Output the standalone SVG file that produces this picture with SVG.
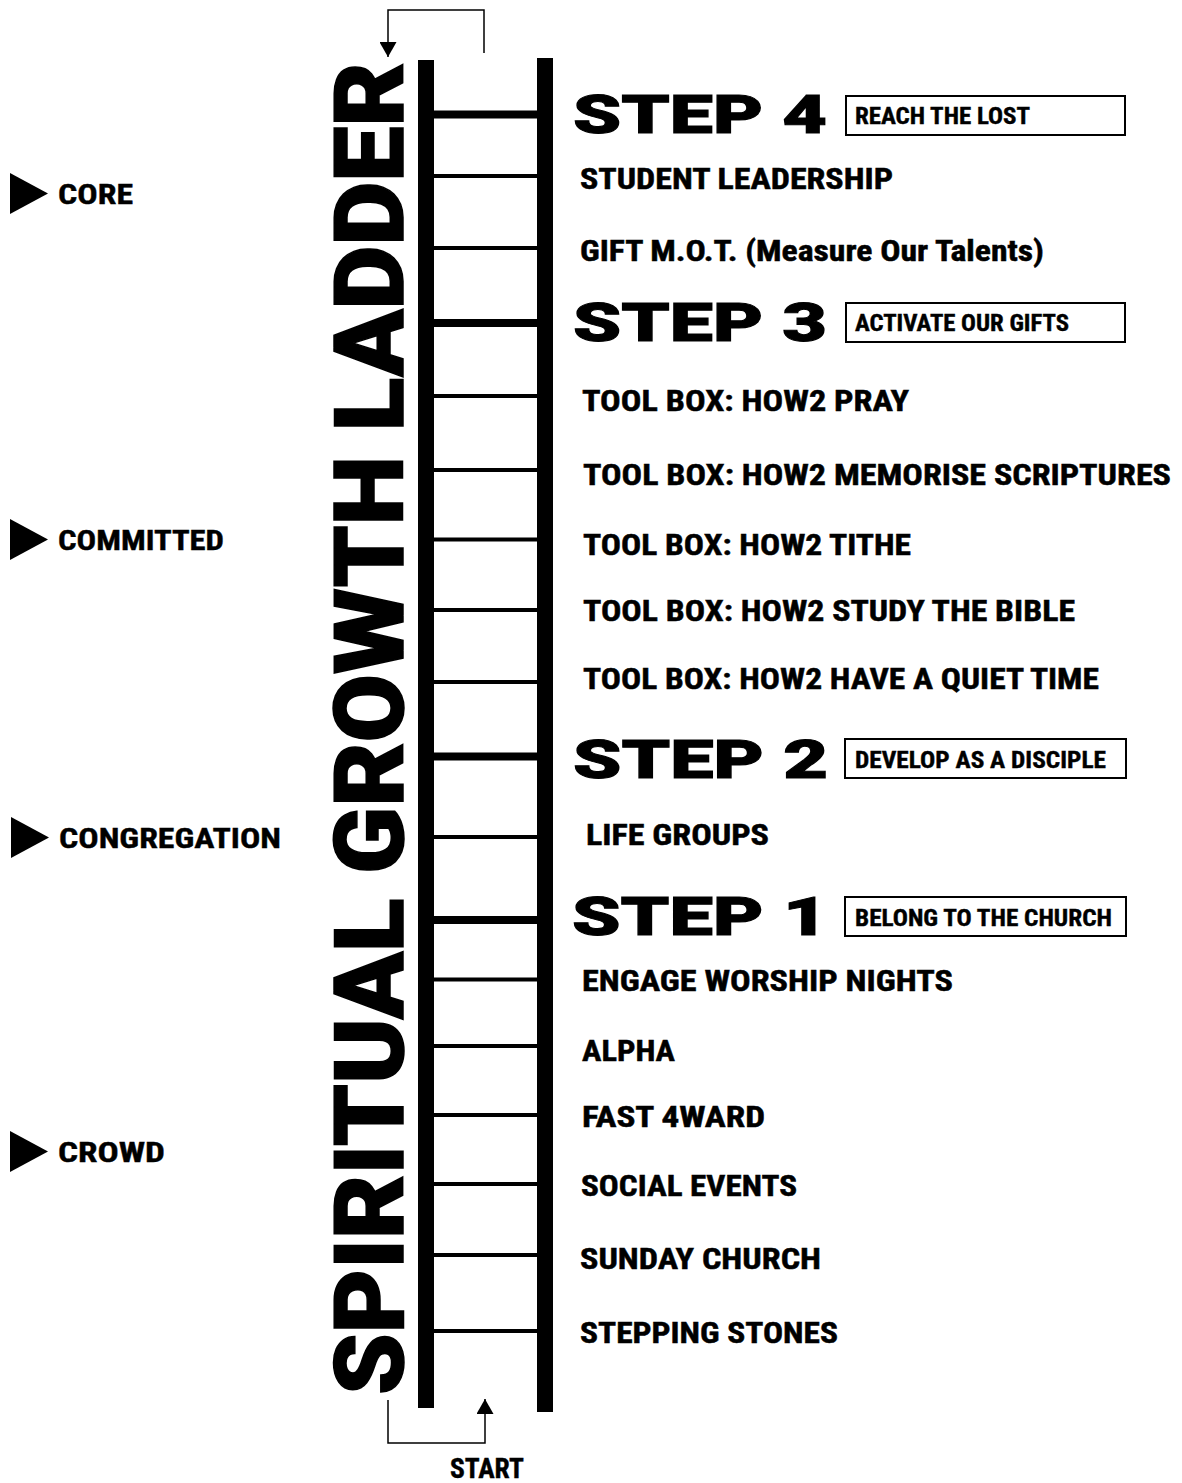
<svg xmlns="http://www.w3.org/2000/svg" width="1182" height="1483" viewBox="0 0 1182 1483">
<style>
.bg{fill:#fff}
.rail{fill:#000}
.rung{fill:#000}
.title{font-family:"Roboto","DejaVu Sans","Liberation Sans",sans-serif;font-weight:900;font-size:97px;fill:#000;stroke:#000;stroke-width:1.5}
.step{font-family:"Roboto","DejaVu Sans","Liberation Sans",sans-serif;font-weight:900;font-size:53px;fill:#000;stroke:#000;stroke-width:1}
.item{font-family:"Liberation Sans Narrow","Roboto Condensed","Liberation Sans",sans-serif;font-weight:bold;font-size:30px;fill:#000;stroke:#000;stroke-width:0.5}
.box{fill:#fff;stroke:#000;stroke-width:2}
.boxt{font-family:"Liberation Sans Narrow","Roboto Condensed","Liberation Sans",sans-serif;font-weight:bold;font-size:23px;fill:#000;stroke:#000;stroke-width:0.4}
.lab{font-family:"Liberation Sans Narrow","Roboto Condensed","Liberation Sans",sans-serif;font-weight:bold;font-size:28px;fill:#000;stroke:#000;stroke-width:0.4}
.tri{fill:#000}
.conn{fill:none;stroke:#000;stroke-width:1.5}
</style>
<defs>
<marker id="ah" markerUnits="userSpaceOnUse" markerWidth="17" markerHeight="17" refX="15" refY="8.5" orient="auto">
<path d="M0,0 L15,8.5 L0,17 z" fill="#000"/>
</marker>
</defs>
<rect class="bg" x="0" y="0" width="1182" height="1483"/>

<g id="ladder">
<rect class="rail" x="418" y="60" width="16" height="1348"/>
<rect class="rail" x="537" y="58" width="16" height="1354"/>
<rect class="rung" x="434" y="110.5" width="103" height="8"/>
<rect class="rung" x="434" y="174" width="103" height="4"/>
<rect class="rung" x="434" y="246" width="103" height="4"/>
<rect class="rung" x="434" y="319" width="103" height="8"/>
<rect class="rung" x="434" y="394" width="103" height="4"/>
<rect class="rung" x="434" y="468" width="103" height="4"/>
<rect class="rung" x="434" y="537.5" width="103" height="4"/>
<rect class="rung" x="434" y="608" width="103" height="4"/>
<rect class="rung" x="434" y="680" width="103" height="4"/>
<rect class="rung" x="434" y="752.5" width="103" height="8"/>
<rect class="rung" x="434" y="835" width="103" height="4"/>
<rect class="rung" x="434" y="916" width="103" height="8"/>
<rect class="rung" x="434" y="977.5" width="103" height="4"/>
<rect class="rung" x="434" y="1044" width="103" height="4"/>
<rect class="rung" x="434" y="1113" width="103" height="4"/>
<rect class="rung" x="434" y="1182" width="103" height="4"/>
<rect class="rung" x="434" y="1253" width="103" height="4"/>
<rect class="rung" x="434" y="1329" width="103" height="4"/>
</g>

<g id="title">
<text class="title" transform="translate(403,1395) rotate(-90)" textLength="1333" lengthAdjust="spacingAndGlyphs">SPIRITUAL GROWTH LADDER</text>
</g>

<g id="step4">
<text class="step" x="573" y="133" textLength="254" lengthAdjust="spacingAndGlyphs">STEP 4</text>
<rect class="box" x="846" y="96" width="279" height="39"/>
<text class="boxt" x="855" y="124" textLength="175" lengthAdjust="spacingAndGlyphs">REACH THE LOST</text>
</g>
<g id="item-student-leadership"><text class="item" x="580" y="189" textLength="313" lengthAdjust="spacingAndGlyphs">STUDENT LEADERSHIP</text></g>
<g id="item-gift-mot"><text class="item" x="580" y="261" textLength="464" lengthAdjust="spacingAndGlyphs">GIFT M.O.T. (Measure Our Talents)</text></g>

<g id="step3">
<text class="step" x="573" y="341" textLength="254" lengthAdjust="spacingAndGlyphs">STEP 3</text>
<rect class="box" x="846" y="303" width="279" height="39"/>
<text class="boxt" x="855" y="331" textLength="214" lengthAdjust="spacingAndGlyphs">ACTIVATE OUR GIFTS</text>
</g>
<g id="item-pray"><text class="item" x="582" y="411" textLength="327" lengthAdjust="spacingAndGlyphs">TOOL BOX: HOW2 PRAY</text></g>
<g id="item-memorise"><text class="item" x="583" y="485" textLength="588" lengthAdjust="spacingAndGlyphs">TOOL BOX: HOW2 MEMORISE SCRIPTURES</text></g>
<g id="item-tithe"><text class="item" x="583" y="555" textLength="328" lengthAdjust="spacingAndGlyphs">TOOL BOX: HOW2 TITHE</text></g>
<g id="item-study"><text class="item" x="583" y="621" textLength="492" lengthAdjust="spacingAndGlyphs">TOOL BOX: HOW2 STUDY THE BIBLE</text></g>
<g id="item-quiet"><text class="item" x="583" y="689" textLength="516" lengthAdjust="spacingAndGlyphs">TOOL BOX: HOW2 HAVE A QUIET TIME</text></g>

<g id="step2">
<text class="step" x="573" y="778" textLength="255" lengthAdjust="spacingAndGlyphs">STEP 2</text>
<rect class="box" x="845" y="739" width="281" height="39"/>
<text class="boxt" x="855" y="768" textLength="251" lengthAdjust="spacingAndGlyphs">DEVELOP AS A DISCIPLE</text>
</g>
<g id="item-life-groups"><text class="item" x="586" y="845" textLength="183" lengthAdjust="spacingAndGlyphs">LIFE GROUPS</text></g>

<g id="step1">
<text class="step" x="572" y="935" textLength="256" lengthAdjust="spacingAndGlyphs">STEP 1</text>
<rect class="box" x="845" y="897" width="281" height="39"/>
<text class="boxt" x="855" y="926" textLength="257" lengthAdjust="spacingAndGlyphs">BELONG TO THE CHURCH</text>
</g>
<g id="item-engage"><text class="item" x="582" y="991" textLength="371" lengthAdjust="spacingAndGlyphs">ENGAGE WORSHIP NIGHTS</text></g>
<g id="item-alpha"><text class="item" x="582" y="1061" textLength="93" lengthAdjust="spacingAndGlyphs">ALPHA</text></g>
<g id="item-fast4ward"><text class="item" x="582" y="1127" textLength="183" lengthAdjust="spacingAndGlyphs">FAST 4WARD</text></g>
<g id="item-social"><text class="item" x="581" y="1196" textLength="216" lengthAdjust="spacingAndGlyphs">SOCIAL EVENTS</text></g>
<g id="item-sunday"><text class="item" x="580" y="1269" textLength="241" lengthAdjust="spacingAndGlyphs">SUNDAY CHURCH</text></g>
<g id="item-stepping"><text class="item" x="580" y="1343" textLength="258" lengthAdjust="spacingAndGlyphs">STEPPING STONES</text></g>

<g id="label-core">
<polygon class="tri" points="10,173 48,193.5 10,214"/>
<text class="lab" x="58" y="204" textLength="75" lengthAdjust="spacingAndGlyphs">CORE</text>
</g>
<g id="label-committed">
<polygon class="tri" points="10,519 48,539.5 10,560"/>
<text class="lab" x="58" y="550" textLength="166" lengthAdjust="spacingAndGlyphs">COMMITTED</text>
</g>
<g id="label-congregation">
<polygon class="tri" points="11,817 49,837.5 11,858"/>
<text class="lab" x="59" y="848" textLength="222" lengthAdjust="spacingAndGlyphs">CONGREGATION</text>
</g>
<g id="label-crowd">
<polygon class="tri" points="10,1131 48,1151.5 10,1172"/>
<text class="lab" x="58" y="1162" textLength="107" lengthAdjust="spacingAndGlyphs">CROWD</text>
</g>

<g id="start">
<text class="lab" x="450" y="1478" font-size="22" textLength="74" lengthAdjust="spacingAndGlyphs">START</text>
</g>

<g id="connectors">
<path class="conn" d="M484,53 V10 H388 V57" marker-end="url(#ah)"/>
<path class="conn" d="M388,1400 V1443 H485 V1399" marker-end="url(#ah)"/>
</g>
</svg>
